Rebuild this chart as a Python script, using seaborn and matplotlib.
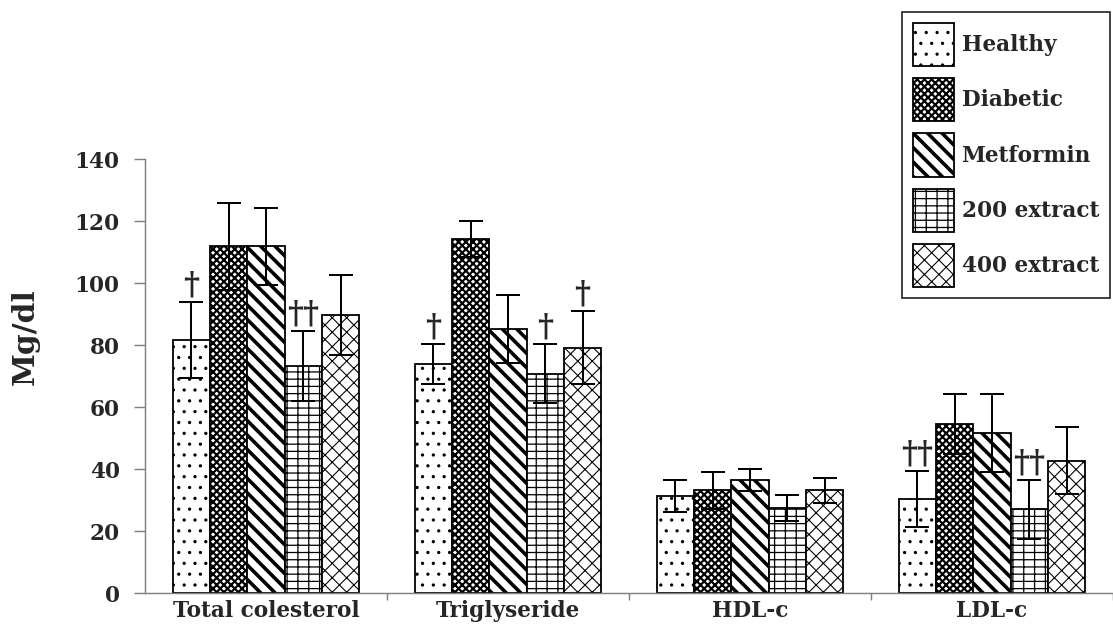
import numpy as np
import pandas as pd
import matplotlib
matplotlib.use("Agg")
import matplotlib.pyplot as plt
import matplotlib.patches as mpatches
import seaborn as sns

# -------------------- DATA --------------------
categories = ["Total colesterol", "Triglyseride", "HDL-c", "LDL-c"]
groups = ["Healthy", "Diabetic", "Metformin", "200 extract", "400 extract"]

healthy = [81.5, 73.8, 31.3, 30.2]
diabetic = [111.8, 114.2, 33.1, 54.5]
metformin = [111.8, 85.2, 36.5, 51.6]
extract200 = [73.2, 70.7, 27.5, 27.0]
extract400 = [89.8, 79.1, 33.1, 42.7]

healthy_sd = [12.3, 6.4, 5.2, 9.0]
diabetic_sd = [14.0, 5.9, 5.9, 9.6]
metformin_sd = [12.5, 11.0, 3.5, 12.5]
extract200_sd = [11.3, 9.5, 4.2, 9.5]
extract400_sd = [12.9, 11.8, 4.1, 10.7]

# significance marks per group, per category
healthy_sig = ["†", "†", "", "††"]
diabetic_sig = ["", "", "", ""]
metformin_sig = ["", "", "", ""]
extract200_sig = ["††", "†", "", "††"]
extract400_sig = ["", "†", "", ""]
# ------------------------------------------------

means = [healthy, diabetic, metformin, extract200, extract400]
sds = [healthy_sd, diabetic_sd, metformin_sd, extract200_sd, extract400_sd]
sigs = [healthy_sig, diabetic_sig, metformin_sig, extract200_sig, extract400_sig]

hatches = ["..", "xxxxxx", "\\\\\\", "---||", "xxx"]
hatch_lw = [0.6, 1.2, 2.0, 0.7, 0.6]

rows = []
for g, vals in zip(groups, means):
    for c, v in zip(categories, vals):
        rows.append({"category": c, "group": g, "value": v})
df = pd.DataFrame(rows)

sns.set_style("white")
plt.rcParams["font.family"] = ["DejaVu Serif"]
plt.rcParams["font.weight"] = "bold"
plt.rcParams["hatch.color"] = "black"

DPI = 130
fig = plt.figure(figsize=(1113 / DPI, 643 / DPI), dpi=DPI)
ax = fig.add_axes([145 / 1113, 1 - 593 / 643, (1113 - 145) / 1113, (593 - 159) / 643])

sns.barplot(data=df, x="category", y="value", hue="group", order=categories,
            hue_order=groups, palette=["white"] * 5, edgecolor="black",
            linewidth=1.0, width=0.77, errorbar=None, saturation=1, ax=ax,
            legend=False)

bar_conts = list(ax.containers)
for i, cont in enumerate(bar_conts):
    xs = []
    for bar in cont:
        bar.set_hatch(hatches[i])
        if hasattr(bar, "set_hatch_linewidth"):
            bar.set_hatch_linewidth(hatch_lw[i])
        xs.append(bar.get_x() + bar.get_width() / 2)
    ax.errorbar(xs, means[i], yerr=sds[i], fmt="none", ecolor="black",
                elinewidth=1.1, capsize=6.5, capthick=1.1, zorder=5)
    for x, m, s, mark in zip(xs, means[i], sds[i], sigs[i]):
        if mark:
            ax.annotate(mark, (x, m + s), xytext=(0, 1), textcoords="offset points",
                        ha="center", va="bottom", fontsize=17, fontweight="bold")

ax.set_ylim(0, 140)
ax.set_xlim(-0.5, -0.5 + (1113 - 145) / 245)
ax.set_yticks(range(0, 141, 20))
ax.set_xticks(range(len(categories)))
ax.set_xticklabels(categories)
ax.set_xticks([0.5, 1.5, 2.5, 3.5], minor=True)
ax.tick_params(axis="y", length=6, width=0.8, color="#808080", pad=8,
               labelsize=12, left=True)
ax.tick_params(axis="x", which="major", length=0, pad=4, labelsize=12)
ax.tick_params(axis="x", which="minor", length=4, width=0.8, color="#808080", bottom=True)
for lab in ax.get_xticklabels() + ax.get_yticklabels():
    lab.set_fontweight("bold")
ax.set_xlabel("")
ax.set_ylabel("")
for side in ["top", "right"]:
    ax.spines[side].set_visible(False)
for side in ["left", "bottom"]:
    ax.spines[side].set_color("#808080")
    ax.spines[side].set_linewidth(0.8)

fig.text(25 / 1113, 1 - 337 / 643, "Mg/dl", rotation=90, ha="center", va="center",
         fontsize=16.5, fontweight="bold")

handles = []
for i, g in enumerate(groups):
    p = mpatches.Patch(facecolor="white", edgecolor="black", hatch=hatches[i],
                       linewidth=1.0, label=g)
    if hasattr(p, "set_hatch_linewidth"):
        p.set_hatch_linewidth(hatch_lw[i])
    handles.append(p)
leg = fig.legend(handles=handles, loc="upper left", bbox_to_anchor=(902 / 1113, 1 - 12 / 643),
                 borderaxespad=0, frameon=True, fancybox=False, handlelength=1.9,
                 handleheight=2.7, labelspacing=0.55, handletextpad=0.35,
                 borderpad=0.5, prop={"weight": "bold", "size": 12})
leg.get_frame().set_edgecolor("black")
leg.get_frame().set_linewidth(1.0)
for h in leg.legend_handles:
    if hasattr(h, "set_hatch_linewidth"):
        h.set_hatch_linewidth(hatch_lw[leg.legend_handles.index(h)])

fig.savefig("out.png", dpi=DPI)
